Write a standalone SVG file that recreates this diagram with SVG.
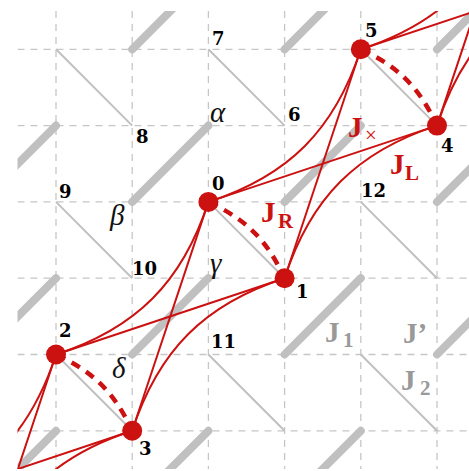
<svg xmlns="http://www.w3.org/2000/svg" width="469" height="471" viewBox="0 0 469 471">
<defs>
<clipPath id="clip"><rect x="17.5" y="11" width="457.5" height="458"/></clipPath>
<style>
.grid{stroke:#c6c6c6;stroke-width:1.3;stroke-dasharray:7 6;fill:none}
.thin{stroke:#c0c0c0;stroke-width:2;fill:none}
.bar{stroke:#c0c0c0;stroke-width:8;stroke-linecap:round;fill:none}
.red{stroke:#cc1111;stroke-width:2;fill:none}
.arc{stroke:#cc1111;stroke-width:4.5;fill:none;stroke-dasharray:9.5 7.5;stroke-dashoffset:16.5}
.node{fill:#cc1111}
.num{font-family:"DejaVu Serif",serif;font-weight:bold;font-size:18px;fill:#000}
.greek{font-family:"Liberation Serif",serif;font-style:italic;font-size:29px;fill:#111}
.jr{font-family:"Liberation Serif",serif;font-weight:bold;font-size:29px;fill:#cc1111}
.jg{font-family:"Liberation Serif",serif;font-weight:bold;font-size:29px;fill:#999999}
.sub{font-size:21px}
</style>
</defs>
<g id="lattice" clip-path="url(#clip)">
<g id="grid">
<path class="grid" d="M17.5,49.3H475M17.5,125.6H475M17.5,201.9H475M17.5,278.2H475M17.5,354.5H475M17.5,430.8H475"/>
<path class="grid" d="M56,11V469M132.2,11V469M208.4,11V469M284.6,11V469M360.8,11V469M437,11V469"/>
</g>
<g id="bonds-J2">
<path class="thin" d="M56,49.3L132.2,125.6M208.4,49.3L284.6,125.6M360.8,49.3L437,125.6M56,201.9L132.2,278.2M208.4,201.9L284.6,278.2M360.8,201.9L437,278.2M56,354.5L132.2,430.8M208.4,354.5L284.6,430.8M360.8,354.5L437,430.8"/>
</g>
<g id="bonds-J1">
<path class="bar" d="M132.2,49.3L208.4,-27M284.6,49.3L360.8,-27M437,49.3L513.2,-27M-20.2,201.9L56,125.6M132.2,201.9L208.4,125.6M284.6,201.9L360.8,125.6M437,201.9L513.2,125.6M-20.2,354.5L56,278.2M132.2,354.5L208.4,278.2M284.6,354.5L360.8,278.2M437,354.5L513.2,278.2M-20.2,507.1L56,430.8M132.2,507.1L208.4,430.8M284.6,507.1L360.8,430.8"/>
</g>
<g id="connectors">
<path class="red" d="M208.4,201.9L437,125.6M56,354.5L284.6,278.2M360.8,49.3L589.4,-27M-96.4,507.1L132.2,430.8"/>
<path class="red" d="M132.2,430.8L208.4,201.9M284.6,278.2L360.8,49.3M437,125.6L513.2,-103.3M-20.2,583.4L56,354.5"/>
<path class="red" d="M-96.4,507.1C-16.1,481 29.9,434.8 56,354.5M56,354.5C136.3,328.4 182.3,282.2 208.4,201.9M208.4,201.9C288.7,175.8 334.7,129.6 360.8,49.3M360.8,49.3C441.1,23.2 487.1,-23 513.2,-103.3"/>
<path class="red" d="M-20.2,583.4C5.9,503.1 51.9,456.9 132.2,430.8M132.2,430.8C158.3,350.5 204.3,304.3 284.6,278.2M284.6,278.2C310.7,197.9 356.7,151.7 437,125.6M437,125.6C463.1,45.3 509.1,-0.9 589.4,-27"/>
<path class="arc" d="M208.4,201.9C246.6,219.7 266.8,240 284.6,278.2"/>
<path class="arc" d="M56,354.5C94.2,372.3 114.4,392.6 132.2,430.8"/>
<path class="arc" d="M360.8,49.3C399,67.1 419.2,87.4 437,125.6"/>
</g>
</g>
<g id="node-0"><circle class="node" cx="208.4" cy="201.9" r="10"/><text class="num" x="212" y="190">0</text></g>
<g id="node-1"><circle class="node" cx="284.6" cy="278.2" r="10"/><text class="num" x="296" y="298">1</text></g>
<g id="node-2"><circle class="node" cx="56" cy="354.5" r="10"/><text class="num" x="59" y="337">2</text></g>
<g id="node-3"><circle class="node" cx="132.2" cy="430.8" r="10"/><text class="num" x="139" y="455">3</text></g>
<g id="node-4"><circle class="node" cx="437" cy="125.6" r="10"/><text class="num" x="441" y="152">4</text></g>
<g id="node-5"><circle class="node" cx="360.8" cy="49.3" r="10"/><text class="num" x="365" y="37">5</text></g>
<g id="site-labels">
<text class="num" x="212" y="45">7</text>
<text class="num" x="288" y="121">6</text>
<text class="num" x="136" y="143">8</text>
<text class="num" x="59" y="198">9</text>
<text class="num" x="132" y="275">10</text>
<text class="num" x="211" y="348">11</text>
<text class="num" x="361" y="197">12</text>
</g>
<g id="plaquette-labels">
<text class="greek" x="210" y="122">α</text>
<text class="greek" x="110" y="225">β</text>
<text class="greek" x="210" y="273">γ</text>
<text class="greek" x="112" y="378">δ</text>
</g>
<g id="coupling-labels">
<text class="jr" x="348" y="137">J<tspan x="365" y="142" style="font-weight:normal" class="sub">×</tspan></text>
<text class="jr" x="390" y="174">J<tspan x="405" y="180" class="sub">L</tspan></text>
<text class="jr" x="261" y="222">J<tspan x="278" y="228" class="sub">R</tspan></text>
<text class="jg" x="325" y="342">J<tspan x="343" y="347" class="sub">1</tspan></text>
<text class="jg" x="403" y="343">J’</text>
<text class="jg" x="401" y="390">J<tspan x="420" y="395" class="sub">2</tspan></text>
</g>
</svg>
